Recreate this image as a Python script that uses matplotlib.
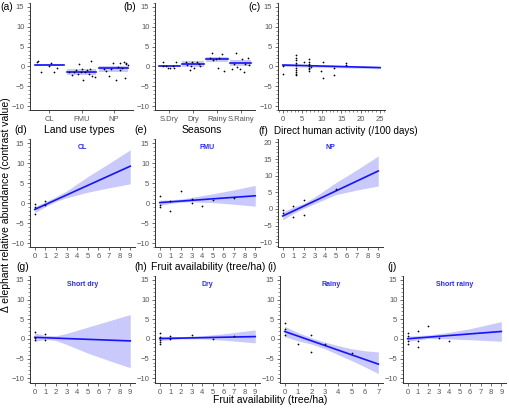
import numpy as np
import matplotlib
matplotlib.use("Agg")
import matplotlib.pyplot as plt
from matplotlib.ticker import MultipleLocator

plt.rcParams['font.family'] = ['Liberation Sans', 'DejaVu Sans']

# ---- data ----
# (a) land use types
land_cats = ["CL", "FMU", "NP"]
land_mean = [0.3, -1.35, -0.5]
land_lo = [0.1, -2.1, -1.35]
land_hi = [0.5, -0.6, 0.2]
land_pts_x = [0.61, 0.64, 0.75, 0.99, 1.05, 1.15, 1.25,
              1.62, 1.69, 1.76, 1.82, 1.89, 1.93, 1.97, 2.03, 2.05, 2.1, 2.18, 2.24, 2.27, 2.31, 2.34, 2.41,
              2.71, 2.76, 2.86, 2.93, 2.98, 3.06, 3.14, 3.19, 3.21, 3.27, 3.31, 3.34, 3.37, 3.39, 3.44]
land_pts_y = [1.2, 1.3, -1.35, 0.0, 0.9, -1.4, -0.5,
              -1.5, -2.1, -1.3, -0.9, -1.8, 0.6, -1.35, -0.7, -3.4, -1.5, -0.9, -1.9, -0.7, 1.4, -2.4, -2.6,
              -0.7, -1.1, -2.4, -0.7, 0.8, -3.4, -0.25, 0.8, -0.85, -0.4, 1.0, -2.8, 0.6, 0.75, 0.35]

# (b) seasons
season_cats = ["S.Dry", "Dry", "Rainy", "S.Rainy"]
season_mean = [0.1, 0.6, 1.85, 0.9]
season_lo = [-0.15, -0.25, 1.2, 0.2]
season_hi = [0.35, 1.4, 2.5, 1.6]
season_pts_x = [0.75, 0.72, 0.85, 0.95, 1.05, 1.15, 1.2, 1.28,
                1.7, 1.75, 1.85, 1.9, 1.95, 2.05, 2.15, 2.25, 2.3,
                2.72, 2.78, 2.85, 2.95, 3.05, 3.1, 3.2, 3.28,
                3.62, 3.7, 3.8, 3.85, 3.95, 4.05, 4.15, 4.2, 4.3, 4.35]
season_pts_y = [1.0, 0.0, 0.0, -0.4, -0.4, 0.0, -0.4, 1.0,
                1.2, 0.4, -0.9, 0.2, 1.0, -0.5, 1.0, 0.5, 0.0,
                2.1, 3.4, 1.6, 1.8, -0.3, 2.1, 3.1, -1.1,
                -0.7, 0.6, 3.3, -0.2, -0.6, 1.9, -1.5, 0.6, 2.1, 0.4]

# (c) direct human activity
human_x = [0, 0, 3.4, 3.4, 3.4, 3.4, 3.4, 3.4, 3.4, 3.4, 3.4, 3.4,
           5.4, 6.6, 6.6, 6.6, 6.6, 6.6, 6.6, 6.6, 7.2,
           9.8, 10.2, 10.2, 13.1, 13.1, 16.3, 16.3]
human_y = [0.0, -1.8, 2.9, 2.2, 1.5, 0.8, 0.3, -0.3, -0.8, -1.3, -1.8, -2.1,
           1.2, 1.8, 1.2, 0.6, 0.0, -0.3, -0.6, -1.2, -0.1,
           -1.1, 1.0, -2.8, -0.3, -2.1, 0.8, 0.3]
human_fit_x = [0, 25]
human_fit_y = [0.35, -0.3]
human_band_lo = [0.0, -0.6]
human_band_hi = [0.7, 0.0]

# fruit availability panels (d)-(j)
fruit = {
    "CL": dict(px=[0, 0, 0, 1, 1], py=[-0.2, -1.0, -2.8, 0.4, -0.6],
               fit=[-1.6, 9.2], xmax=9,
               bx=[0, 1, 2, 3, 5, 7, 9],
               blo=[-2.4, -0.9, 0.4, 1.3, 2.7, 3.8, 4.8],
               bhi=[-0.9, 0.3, 1.6, 3.0, 6.6, 9.9, 13.3]),
    "FMU": dict(px=[0, 0, 0, 1, 1, 2, 3, 3, 4, 5, 7],
                py=[1.75, -0.4, -1.0, 0.4, -2.0, 3.0, 1.1, 0.1, -0.75, 0.7, 1.3],
                fit=[0.1, 1.8], xmax=9,
                bx=[0, 1, 2, 3, 5, 7, 9],
                blo=[-0.6, -0.1, 0.2, 0.3, 0.1, -0.3, -0.8],
                bhi=[0.7, 0.8, 1.0, 1.4, 2.3, 3.3, 4.4]),
    "NP": dict(px=[0, 0, 1, 1, 2, 2, 5], py=[-0.4, -1.3, 1.0, -2.5, 2.7, -1.8, 6.0],
               fit=[-2.1, 11.4], xmax=9,
               bx=[0, 1, 2, 3, 5, 7, 9],
               blo=[-3.3, -1.3, 0.2, 1.6, 4.3, 5.7, 6.9],
               bhi=[-0.9, 0.6, 1.7, 3.6, 7.9, 11.8, 15.9]),
    "Short dry": dict(px=[0, 0, 0, 1, 1], py=[1.75, 0.25, -0.2, 1.2, -0.2],
                      fit=[0.4, -0.5], xmax=9,
                      bx=[0, 1, 2, 3, 5, 7, 9],
                      blo=[-0.6, -0.1, -0.4, -1.4, -3.6, -5.5, -7.3],
                      bhi=[1.5, 0.9, 0.8, 1.4, 3.0, 4.6, 6.2]),
    "Dry": dict(px=[0, 0, 0, 0, 0, 1, 1, 3, 5, 7],
                py=[1.5, 0.5, -0.3, -0.8, -1.25, 0.8, 0.0, 1.1, 0.0, 0.7],
                fit=[0.1, 0.6], xmax=9,
                bx=[0, 2, 4, 6, 9],
                blo=[-0.4, 0.0, 0.0, -0.3, -1.0],
                bhi=[0.7, 0.6, 0.8, 1.3, 2.3]),
    "Rainy": dict(px=[0, 0, 0, 1, 2, 2, 3, 5],
                  py=[4.0, 2.5, 1.1, -1.25, 1.1, -3.25, -1.25, -3.5],
                  fit=[1.9, -6.4], xmax=7,
                  bx=[0, 1, 2, 3, 4, 5, 6, 7],
                  blo=[0.6, -0.5, -1.3, -2.5, -4.0, -5.5, -7.1, -8.8],
                  bhi=[3.2, 1.6, 0.3, -0.8, -1.7, -2.5, -3.0, -3.3]),
    "Short rainy": dict(px=[0, 0, 0, 0, 1, 1, 1, 2, 3, 4],
                        py=[1.5, 0.8, -0.6, -1.4, 1.9, -0.4, -2.0, 3.2, 0.25, -0.4],
                        fit=[0.05, 1.9], xmax=9,
                        bx=[0, 2, 4, 6, 9],
                        blo=[-0.6, 0.1, 0.0, -0.2, -0.6],
                        bhi=[0.7, 1.0, 1.7, 2.6, 4.4]),
}

# ---- styling ----
W, H = 510, 409
LINE = "#1414ff"
BAND = "#c9c9fb"
TICKC = "#555555"

fig = plt.figure(figsize=(W / 100, H / 100), dpi=100)


def make_ax(left, top, right, bottom):
    return fig.add_axes([left / W, 1 - bottom / H, (right - left) / W, (bottom - top) / H])


def style(ax, ylim, ymajor=5):
    ax.set_ylim(*ylim)
    for s in ["top", "right"]:
        ax.spines[s].set_visible(False)
    for s in ["left", "bottom"]:
        ax.spines[s].set_color("#333333")
        ax.spines[s].set_linewidth(0.7)
    ax.yaxis.set_major_locator(MultipleLocator(ymajor))
    ax.yaxis.set_minor_locator(MultipleLocator(1))
    ax.tick_params(axis="both", which="major", labelsize=5.5, labelcolor=TICKC,
                   length=2.5, width=0.5, color="#333333", pad=1.5)
    ax.tick_params(axis="both", which="minor", length=1.5, width=0.4, color="#333333")
    ax.set_facecolor("none")


def cat_panel(ax, cats, mean, lo, hi, ptx, pty):
    pos = np.arange(1, len(cats) + 1)
    for p, m, l, h in zip(pos, mean, lo, hi):
        ax.fill_between([p - 0.45, p + 0.45], [l, l], [h, h], color=BAND, lw=0)
        ax.plot([p - 0.45, p + 0.45], [m, m], color=LINE, lw=1.2)
    ax.scatter(ptx, pty, s=1.6, color="black", zorder=3, lw=0)
    ax.set_xlim(0.4, len(cats) + 0.6)
    ax.set_xticks(pos)
    ax.set_xticklabels(cats)
    ax.tick_params(axis="x", length=0)
    style(ax, (-11, 16))


# row 1
ax_a = make_ax(30, 3, 133, 110)
cat_panel(ax_a, land_cats, land_mean, land_lo, land_hi, land_pts_x, land_pts_y)

ax_b = make_ax(155, 3, 255, 110)
cat_panel(ax_b, season_cats, season_mean, season_lo, season_hi, season_pts_x, season_pts_y)

ax_c = make_ax(278, 3, 385, 110)
ax_c.fill_between(human_fit_x, human_band_lo, human_band_hi, color=BAND, lw=0)
ax_c.plot(human_fit_x, human_fit_y, color=LINE, lw=1.2)
ax_c.scatter(human_x, human_y, s=1.6, color="black", zorder=3, lw=0)
ax_c.set_xlim(-1.25, 26.25)
ax_c.xaxis.set_major_locator(MultipleLocator(5))
ax_c.xaxis.set_minor_locator(MultipleLocator(1))
style(ax_c, (-11, 16))


def fruit_panel(ax, name, ylim):
    d = fruit[name]
    ax.fill_between(d["bx"], d["blo"], d["bhi"], color=BAND, lw=0)
    ax.plot([0, d["xmax"]], d["fit"], color=LINE, lw=1.2)
    ax.scatter(d["px"], d["py"], s=1.6, color="black", zorder=3, lw=0)
    ax.set_xlim(-0.05 * d["xmax"], 1.05 * d["xmax"])
    ax.set_xticks(range(d["xmax"] + 1))
    style(ax, ylim)
    ax.text(0.5, 0.92, name, transform=ax.transAxes, ha="center", va="center",
            color="#2a2aff", fontsize=5, fontweight="bold")


# row 2
ax_d = make_ax(30, 139, 135, 247)
fruit_panel(ax_d, "CL", (-11, 16))
ax_e = make_ax(155, 139, 260, 247)
fruit_panel(ax_e, "FMU", (-11, 16))
ax_f = make_ax(278, 139, 383, 247)
fruit_panel(ax_f, "NP", (-11.4, 21))

# row 3
ax_g = make_ax(30, 276, 135, 383)
fruit_panel(ax_g, "Short dry", (-11.2, 16))
ax_h = make_ax(155, 276, 260, 383)
fruit_panel(ax_h, "Dry", (-11.2, 16))
ax_i = make_ax(280, 276, 383, 383)
fruit_panel(ax_i, "Rainy", (-11.2, 16))
ax_j = make_ax(403, 276, 506, 383)
fruit_panel(ax_j, "Short rainy", (-11.2, 16))


# ---- labels ----
def ftext(x, y, s, size=7.5, **kw):
    fig.text(x / W, 1 - y / H, s, fontsize=size, va="center", **kw)


ftext(7, 7, "(a)", ha="center")
ftext(130, 7, "(b)", ha="center")
ftext(255, 7, "(c)", ha="center")
ftext(79, 130, "Land use types", ha="center")
ftext(202, 130, "Seasons", ha="center")
ftext(346, 131, "Direct human activity (/100 days)", size=7.1, ha="center")
ftext(21, 130, "(d)", ha="center")
ftext(141, 130, "(e)", ha="center")
ftext(263, 131, "(f)", ha="center")
ftext(208, 267, "Fruit availability (tree/ha)", ha="center")
ftext(23, 267, "(g)", ha="center")
ftext(141, 267, "(h)", ha="center")
ftext(272, 267, "(i)", ha="center")
ftext(392, 267, "(j)", ha="center")
ftext(270, 400, "Fruit availability (tree/ha)", ha="center")
fig.text(6 / W, 1 - 205 / H, "Δ elephant relative abundance (contrast value)",
         rotation=90, fontsize=7.5, ha="center", va="center")

fig.savefig("out.png", dpi=100)
